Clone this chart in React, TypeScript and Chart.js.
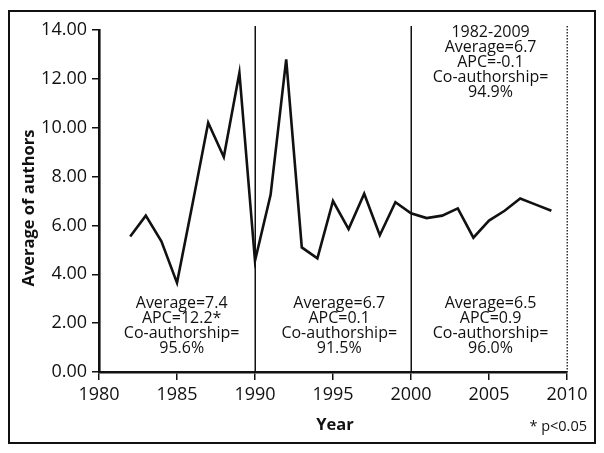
import React, { useEffect, useRef } from "react";
import { Chart, registerables } from "chart.js";

Chart.register(...registerables);

const years = [1982, 1983, 1984, 1985, 1986, 1987, 1988, 1989, 1990, 1991, 1992, 1993, 1994, 1995, 1996, 1997, 1998, 1999, 2000, 2001, 2002, 2003, 2004, 2005, 2006, 2007, 2008, 2009];
const avgAuthors = [5.55, 6.4, 5.35, 3.65, 6.9, 10.2, 8.8, 12.25, 4.55, 7.25, 12.8, 5.1, 4.65, 7.0, 5.85, 7.3, 5.6, 6.95, 6.5, 6.3, 6.4, 6.7, 5.5, 6.2, 6.6, 7.1, 6.85, 6.6];
const dividerYears = [1990, 2000];
const dottedYears = [2010];
const periodText = [
  ["Average=7.4", "APC=12.2*", "Co-authorship=", "95.6%"],
  ["Average=6.7", "APC=0.1", "Co-authorship=", "91.5%"],
  ["Average=6.5", "APC=0.9", "Co-authorship=", "96.0%"],
];
const overallText = ["1982-2009", "Average=6.7", "APC=-0.1", "Co-authorship=", "94.9%"];
const xTitle = "Year";
const yTitle = "Average of authors";
const footnote = "* p<0.05";

const FONT = "'Open Sans', 'DejaVu Sans', sans-serif";

const overlay = {
  id: "overlay",
  afterDatasetsDraw(chart: any) {
    const ctx = chart.ctx;
    const xs = chart.scales.x;
    const area = chart.chartArea;
    ctx.save();
    // frame
    ctx.strokeStyle = "#111";
    ctx.lineWidth = 2;
    ctx.strokeRect(1, 3, 586, 432);
    // dividers
    ctx.lineWidth = 1.5;
    dividerYears.forEach((yr) => {
      const px = Math.round(xs.getPixelForValue(yr)) + 0.25;
      ctx.beginPath();
      ctx.moveTo(px, area.top - 4);
      ctx.lineTo(px, area.bottom);
      ctx.stroke();
    });
    ctx.setLineDash([1.5, 1.5]);
    ctx.strokeStyle = "#333";
    dottedYears.forEach((yr) => {
      const px = Math.round(xs.getPixelForValue(yr)) + 0.25;
      ctx.beginPath();
      ctx.moveTo(px, area.top - 4);
      ctx.lineTo(px, area.bottom);
      ctx.stroke();
    });
    ctx.setLineDash([]);
    // annotation texts
    ctx.fillStyle = "#111";
    ctx.font = `16px ${FONT}`;
    ctx.textAlign = "center";
    ctx.textBaseline = "middle";
    const centers = [1985.3, 1995.4, 2005.1];
    periodText.forEach((lines, i) => {
      const cx = xs.getPixelForValue(centers[i]);
      lines.forEach((t, j) => {
        ctx.fillText(t, cx, 295 + j * 15);
      });
    });
    const ocx = xs.getPixelForValue(2005.1);
    overallText.forEach((t, j) => {
      ctx.fillText(t, ocx, 24 + j * 15);
    });
    // titles
    ctx.font = `bold 16.5px ${FONT}`;
    ctx.fillText(xTitle, 327, 417);
    ctx.save();
    ctx.translate(21, 200);
    ctx.rotate(-Math.PI / 2);
    ctx.fillText(yTitle, 0, 0);
    ctx.restore();
    ctx.font = `14.5px ${FONT}`;
    ctx.textAlign = "right";
    ctx.fillText(footnote, 579, 419);
    ctx.restore();
  },
};

export default function App() {
  const ref = useRef<HTMLCanvasElement | null>(null);
  useEffect(() => {
    if (!ref.current) return;
    const chart = new Chart(ref.current, {
      type: "line",
      data: {
        datasets: [
          {
            data: years.map((y, i) => ({ x: y, y: avgAuthors[i] })),
            borderColor: "#111",
            borderWidth: 2.6,
            pointRadius: 0,
            tension: 0,
            fill: false,
          },
        ],
      },
      options: {
        animation: false,
        responsive: true,
        maintainAspectRatio: false,
        plugins: { legend: { display: false }, tooltip: { enabled: false } },
        layout: { padding: { top: 22, right: 29, left: 0, bottom: 0 } },
        scales: {
          x: {
            type: "linear",
            min: 1980,
            max: 2010,
            afterFit(s: any) {
              s.height = 73;
            },
            ticks: {
              stepSize: 5,
              color: "#111",
              font: { family: FONT, size: 18 },
              padding: 4,
              maxRotation: 0,
              callback: (v: any) => String(v),
            },
            grid: { drawOnChartArea: false, drawTicks: true, tickLength: 8, color: "#111", lineWidth: 1.5 },
            border: { color: "#111", width: 2.6 },
          },
          y: {
            min: 0,
            max: 14,
            afterFit(s: any) {
              s.width = 91;
            },
            ticks: {
              stepSize: 2,
              color: "#111",
              font: { family: FONT, size: 18 },
              padding: 5,
              callback: (v: any) => Number(v).toFixed(2),
            },
            grid: { drawOnChartArea: false, drawTicks: true, tickLength: 7, color: "#111", lineWidth: 1.5 },
            border: { color: "#111", width: 2.6 },
          },
        },
      },
      plugins: [overlay],
    });
    return () => chart.destroy();
  }, []);
  return (
    <div style={{ position: "relative", width: 588, height: 437, background: "#fff" }}>
      <canvas ref={ref} />
    </div>
  );
}
